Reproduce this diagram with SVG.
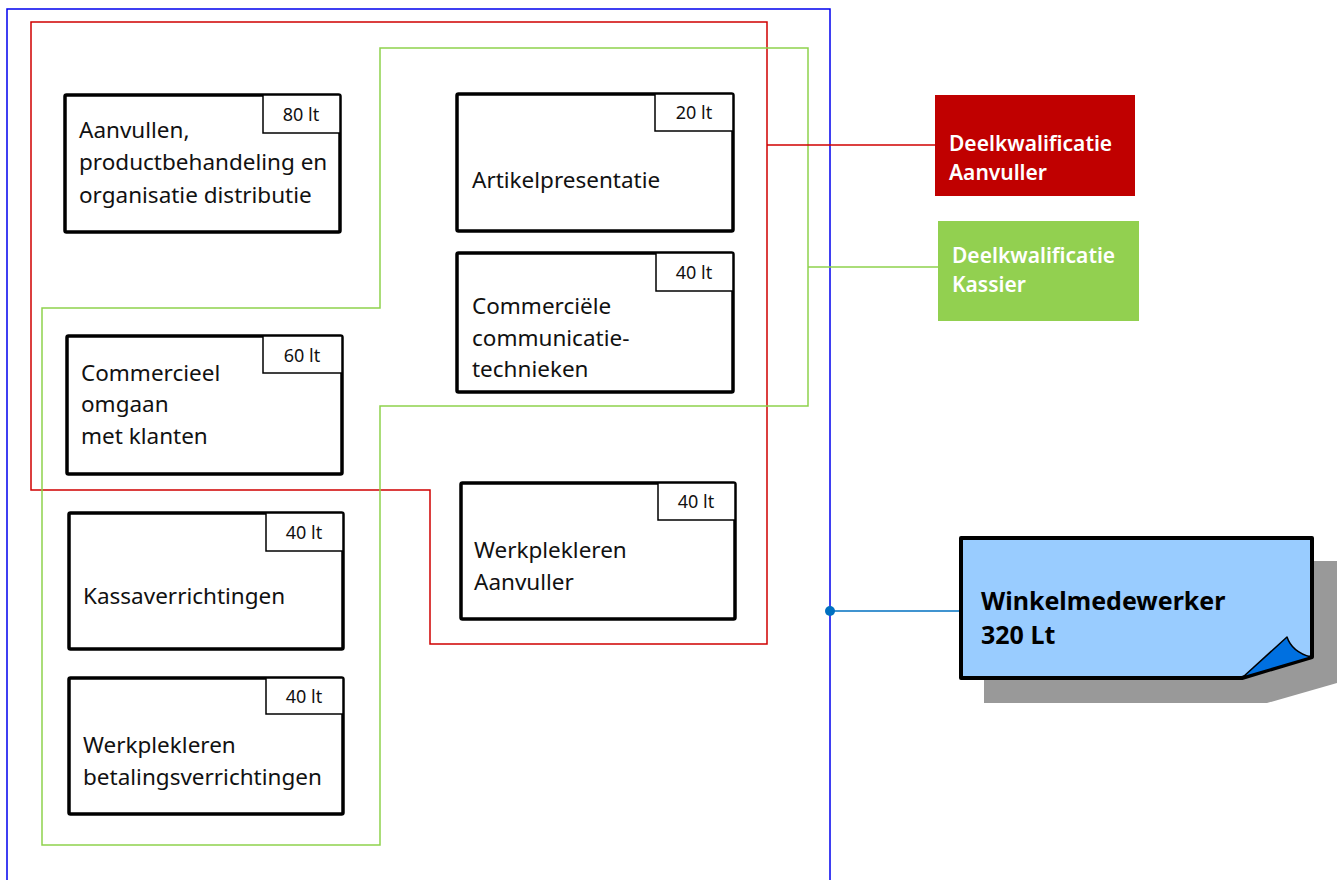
<svg xmlns="http://www.w3.org/2000/svg" width="1341" height="880" viewBox="0 0 1341 880">
<style>
.box{fill:#fff;stroke:#000;stroke-width:3.5}
.tag{fill:#fff;stroke:#000;stroke-width:1.5}
.t{font-family:"Noto Sans","Open Sans",sans-serif;font-size:22.5px;fill:#111}
.lt{font-family:"Noto Sans","Open Sans",sans-serif;font-size:18px;fill:#111;text-anchor:middle}
.q{font-family:"Noto Sans","Open Sans",sans-serif;font-size:21px;font-weight:600;fill:#fff}
.w{font-family:"Noto Sans","Open Sans",sans-serif;font-size:25px;font-weight:700;fill:#000}
</style>
<rect width="1341" height="880" fill="#fff"/>
<g id="connectors" fill="none">
<rect x="7" y="9" width="823" height="900" stroke="#0000EE" stroke-width="1.5"/>
<polygon points="31,22 767,22 767,644 430,644 430,490 31,490" stroke="#D00000" stroke-width="1.5"/>
<polygon points="380,48 808,48 808,406 380,406 380,845 42,845 42,308 380,308" stroke="#8ED24C" stroke-width="1.5"/>
<line x1="767" y1="145" x2="935" y2="145" stroke="#D00000" stroke-width="1.5"/>
<line x1="808" y1="267" x2="938" y2="267" stroke="#8ED24C" stroke-width="1.5"/>
<line x1="830" y1="611" x2="962" y2="611" stroke="#0070C0" stroke-width="1.5"/>
<circle cx="830" cy="611" r="5" fill="#0070C0"/>
</g>
<g id="n1">
<rect class="box" x="65" y="95" width="275" height="137" rx="1.5"/>
<rect class="tag" x="263" y="95" width="77" height="38"/>
<text class="lt" x="301" y="121">80 lt</text>
<text class="t" x="79" y="138">Aanvullen,</text>
<text class="t" x="79" y="170">productbehandeling en</text>
<text class="t" x="79" y="203">organisatie distributie</text>
</g>
<g id="n2">
<rect class="box" x="457" y="94" width="276" height="137" rx="1.5"/>
<rect class="tag" x="655" y="94" width="78" height="37"/>
<text class="lt" x="694" y="119">20 lt</text>
<text class="t" x="472" y="188">Artikelpresentatie</text>
</g>
<g id="n3">
<rect class="box" x="457" y="253" width="276" height="139" rx="1.5"/>
<rect class="tag" x="656" y="253" width="77" height="38"/>
<text class="lt" x="694" y="279">40 lt</text>
<text class="t" x="472" y="314">Commerciële</text>
<text class="t" x="472" y="346">communicatie-</text>
<text class="t" x="472" y="377">technieken</text>
</g>
<g id="n4">
<rect class="box" x="67" y="336" width="275" height="138" rx="1.5"/>
<rect class="tag" x="263" y="336" width="79" height="37"/>
<text class="lt" x="302" y="362">60 lt</text>
<text class="t" x="81" y="381">Commercieel</text>
<text class="t" x="81" y="412">omgaan</text>
<text class="t" x="81" y="444">met klanten</text>
</g>
<g id="n5">
<rect class="box" x="461" y="483" width="274" height="136" rx="1.5"/>
<rect class="tag" x="658" y="483" width="77" height="37"/>
<text class="lt" x="696" y="508">40 lt</text>
<text class="t" x="474" y="558">Werkplekleren</text>
<text class="t" x="474" y="590">Aanvuller</text>
</g>
<g id="n6">
<rect class="box" x="69" y="513" width="274" height="136" rx="1.5"/>
<rect class="tag" x="266" y="513" width="77" height="38"/>
<text class="lt" x="304" y="539">40 lt</text>
<text class="t" x="83" y="604">Kassaverrichtingen</text>
</g>
<g id="n7">
<rect class="box" x="69" y="678" width="274" height="136" rx="1.5"/>
<rect class="tag" x="266" y="678" width="77" height="36"/>
<text class="lt" x="304" y="703">40 lt</text>
<text class="t" x="83" y="753">Werkplekleren</text>
<text class="t" x="83" y="785">betalingsverrichtingen</text>
</g>
<g id="aanvuller">
<rect x="935" y="95" width="200" height="101" fill="#C00000"/>
<text class="q" x="949" y="151">Deelkwalificatie</text>
<text class="q" x="949" y="180">Aanvuller</text>
</g>
<g id="kassier">
<rect x="938" y="221" width="201" height="100" fill="#92D050"/>
<text class="q" x="952" y="263">Deelkwalificatie</text>
<text class="q" x="952" y="292">Kassier</text>
</g>
<g id="winkelmedewerker">
<path d="M984,561 H1337 V683 L1267,703 H984 Z" fill="#999999"/>
<path d="M961,538 H1312 V657 L1242,678 H961 Z" fill="#99CCFF" stroke="#000" stroke-width="4" stroke-linejoin="round"/>
<path d="M1243,677 L1287,637 Q1292,652 1311,657 Z" fill="#0070E0" stroke="#000" stroke-width="1.5" stroke-linejoin="round"/>
<text class="w" x="981" y="610">Winkelmedewerker</text>
<text class="w" x="981" y="644">320 Lt</text>
</g>
</svg>
